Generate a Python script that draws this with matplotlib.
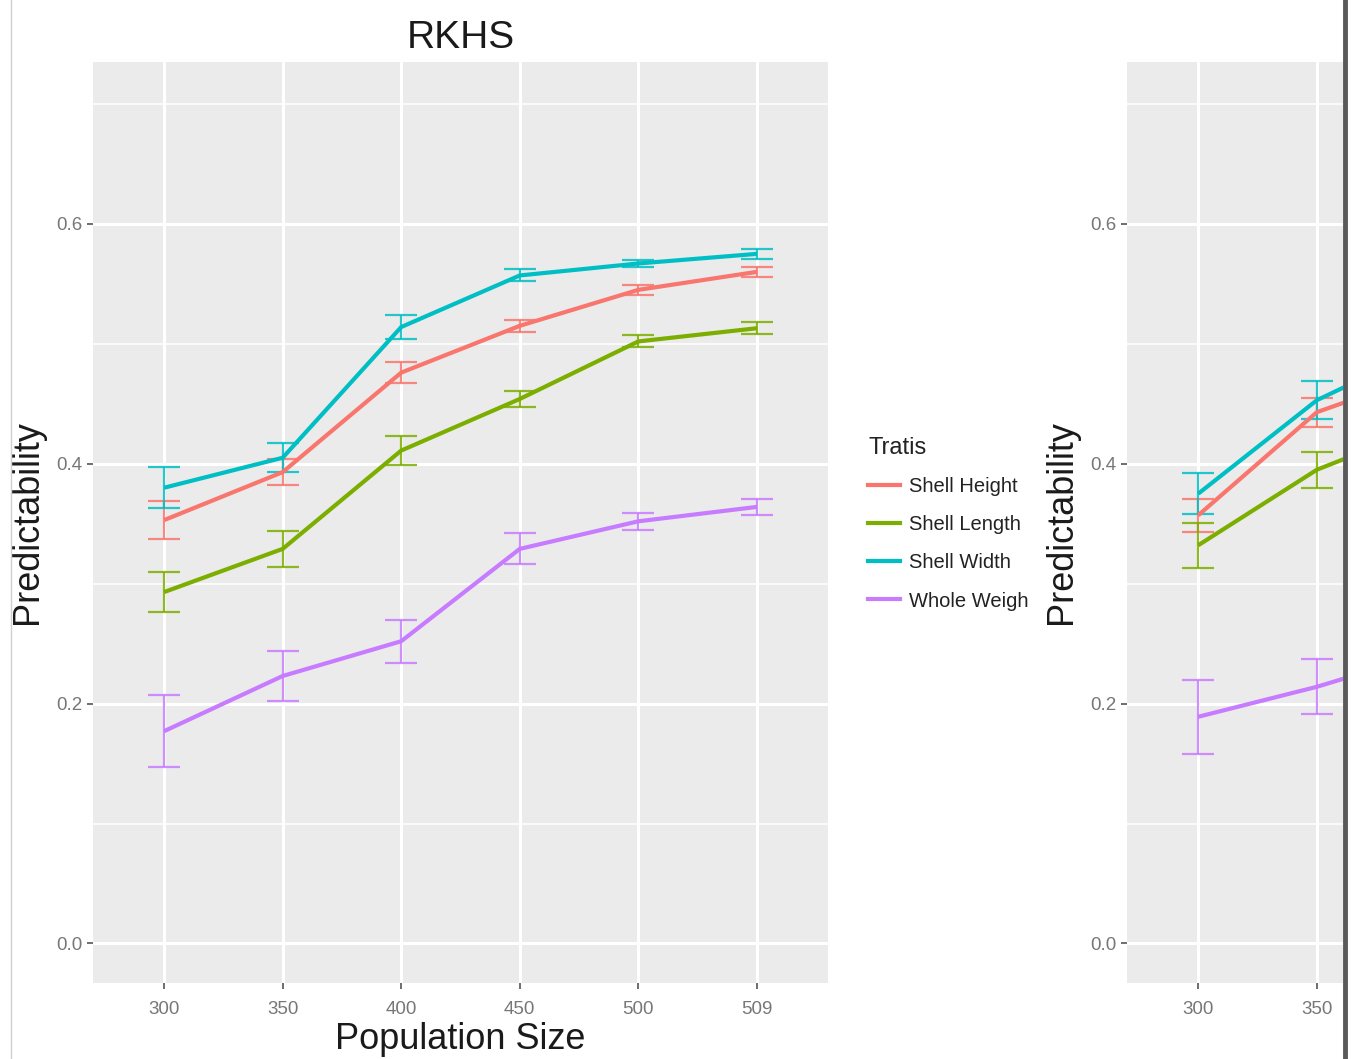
import matplotlib.pyplot as plt
from matplotlib.lines import Line2D

# === Data ===
pop_sizes = ['300', '350', '400', '450', '500', '509']
traits = ['Shell Height', 'Shell Length', 'Shell Width', 'Whole Weigh']
colors = ['#F8766D', '#7CAE00', '#00BFC4', '#C77CFF']

# RKHS panel
rkhs_mean = {
    'Shell Height': [0.353, 0.393, 0.476, 0.515, 0.545, 0.560],
    'Shell Length': [0.293, 0.329, 0.411, 0.454, 0.502, 0.513],
    'Shell Width':  [0.380, 0.405, 0.514, 0.557, 0.567, 0.575],
    'Whole Weigh':  [0.177, 0.223, 0.252, 0.329, 0.352, 0.364],
}
rkhs_err = {
    'Shell Height': [0.016, 0.011, 0.009, 0.005, 0.004, 0.004],
    'Shell Length': [0.017, 0.015, 0.012, 0.007, 0.005, 0.005],
    'Shell Width':  [0.017, 0.012, 0.010, 0.005, 0.003, 0.004],
    'Whole Weigh':  [0.030, 0.021, 0.018, 0.013, 0.007, 0.007],
}

# second panel (cut off at the right edge, only the first points are visible)
second_mean = {
    'Shell Height': [0.357, 0.443, 0.478],
    'Shell Length': [0.332, 0.395, 0.434],
    'Shell Width':  [0.375, 0.453, 0.500],
    'Whole Weigh':  [0.189, 0.214, 0.244],
}
second_err = {
    'Shell Height': [0.014, 0.012, 0.010],
    'Shell Length': [0.019, 0.015, 0.012],
    'Shell Width':  [0.017, 0.016, 0.012],
    'Whole Weigh':  [0.031, 0.023, 0.018],
}

W, H = 1351, 1059
FONT = ['Liberation Sans', 'DejaVu Sans']
plt.rcParams['font.family'] = FONT

fig = plt.figure(figsize=(W / 100, H / 100), dpi=100)
fig.patch.set_facecolor('white')


def style_panel(ax):
    ax.set_facecolor('#EBEBEB')
    for s in ax.spines.values():
        s.set_visible(False)
    ax.set_ylim(-0.033, 0.735)
    ax.set_yticks([0.0, 0.2, 0.4, 0.6])
    ax.set_yticklabels(['0.0', '0.2', '0.4', '0.6'])
    ax.set_yticks([0.1, 0.3, 0.5, 0.7], minor=True)
    ax.set_xticks(range(len(pop_sizes)))
    ax.set_xticklabels(pop_sizes)
    ax.grid(True, which='major', color='white', linewidth=2.2)
    ax.grid(True, which='minor', axis='y', color='white', linewidth=1.1)
    ax.set_axisbelow(True)
    ax.tick_params(axis='both', which='major', colors='#555555', labelcolor='#777777',
                   labelsize=13.5, length=4, width=1.2)
    ax.tick_params(axis='x', which='major', pad=9)
    ax.tick_params(axis='y', which='minor', length=0)
    ax.set_ylabel('Predictability', fontsize=26, color='#1a1a1a', labelpad=8)


def draw_series(ax, means, errs):
    for trait, col in zip(traits, colors):
        y = means[trait]
        x = list(range(len(y)))
        ax.errorbar(x, y, yerr=errs[trait], fmt='none', ecolor=col, elinewidth=1.6,
                    capsize=11.5, capthick=1.6, alpha=0.85, zorder=3)
        ax.plot(x, y, color=col, linewidth=3, zorder=4, solid_capstyle='butt')


# left panel: RKHS
ax1 = fig.add_axes([93 / W, (H - 983) / H, 735 / W, 921 / H])
style_panel(ax1)
draw_series(ax1, rkhs_mean, rkhs_err)
ax1.set_xlim(-0.6, 5.6)
ax1.set_title('RKHS', fontsize=28, color='#1a1a1a', pad=10)
ax1.set_xlabel('Population Size', fontsize=26, color='#1a1a1a', labelpad=3)

# right panel, clipped by the image edge
ax2 = fig.add_axes([1127 / W, (H - 983) / H, 216 / W, 921 / H])
style_panel(ax2)
draw_series(ax2, second_mean, second_err)
ax2.set_xlim(-0.6, 1.22)

# legend between the panels
handles = [Line2D([0], [0], color=c, linewidth=3) for c in colors]
leg = fig.legend(handles, traits, title='Tratis', loc='upper left',
                 bbox_to_anchor=(860 / W, 1 - 429 / H), frameon=False,
                 fontsize=14.5, title_fontsize=17, handlelength=1.6,
                 handletextpad=0.45, labelspacing=0.95, borderaxespad=0)
leg._legend_box.align = 'left'
leg._legend_box.sep = 13
for t in leg.get_texts():
    t.set_color('#222222')
leg.get_title().set_color('#222222')

# thin border lines of the screenshot
fig.add_artist(Line2D([11 / W, 11 / W], [0, 1], color='#D0D0D0', linewidth=1))
fig.add_artist(Line2D([1345 / W, 1345 / W], [0, 1], color='#5A5A5A', linewidth=3.5))

fig.savefig('out.png', dpi=100)
plt.close(fig)
